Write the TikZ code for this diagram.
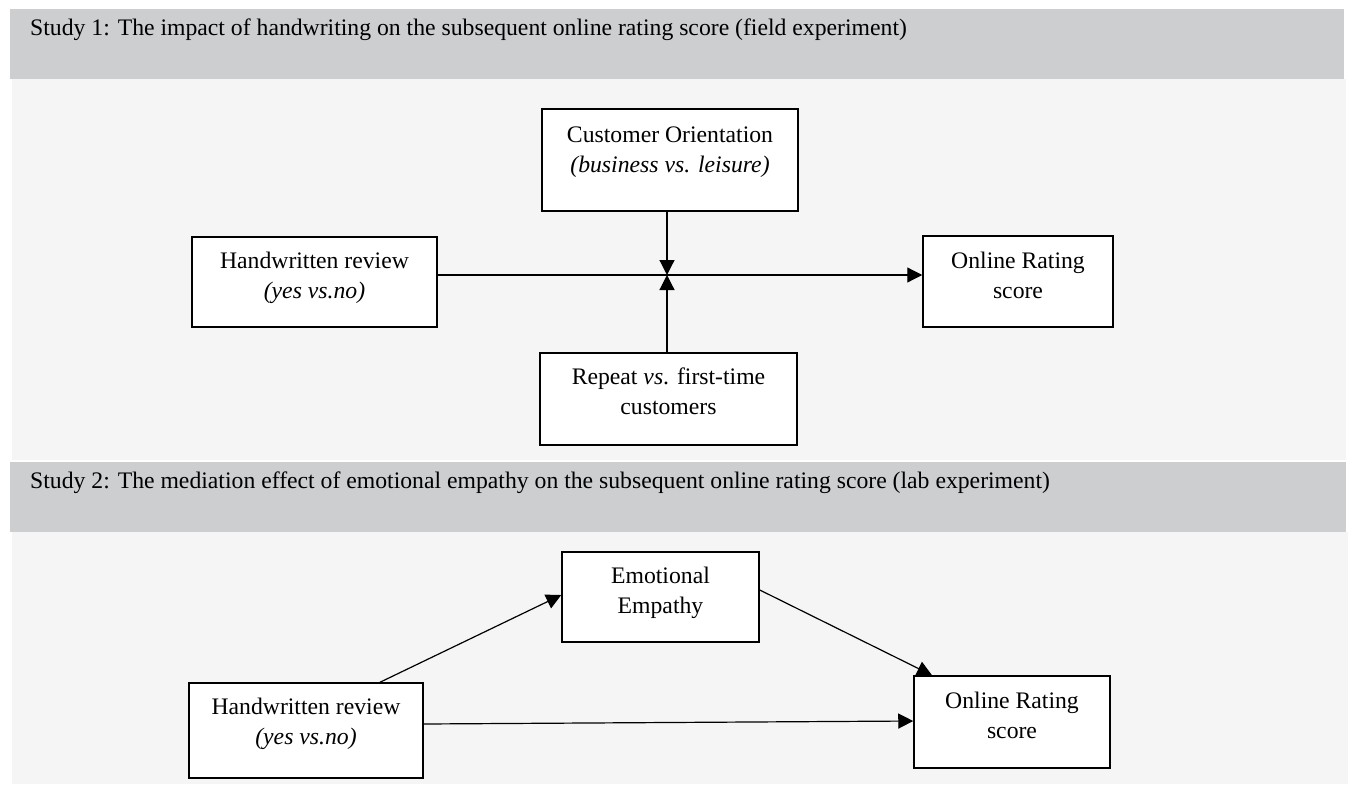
\documentclass[tikz,border=0pt]{standalone}
\usepackage{fontspec}
\setmainfont{Liberation Serif}
\usetikzlibrary{arrows.meta,calc}
\definecolor{hdr}{HTML}{CDCED0}
\definecolor{pnl}{HTML}{F5F5F5}
\begin{document}
\begin{tikzpicture}[x=1pt,y=-1pt,
  font=\fontsize{23.7}{29.5}\selectfont,
  box/.style={draw=black, line width=1.5pt, fill=white, inner sep=0pt},
  txt/.style={anchor=base, align=center, inner sep=0pt},
  hdrtxt/.style={anchor=base west, inner sep=0pt},
  conn/.style={line width=1.2pt, -{Triangle[length=15pt,width=15pt]}}]
\useasboundingbox (0,0) rectangle (1351,784);
\fill[white] (0,0) rectangle (1351,784);
\fill[hdr] (10,9) rectangle (1344,79);
\fill[pnl] (12,79) rectangle (1346,460);
\fill[hdr] (10,462) rectangle (1346,532);
\fill[pnl] (12,532) rectangle (1348,784);
\node[hdrtxt] (h1) at (30,36) {Study 1: The impact of handwriting on the subsequent online rating score (field experiment)};
\node[hdrtxt] (h2) at (30,488) {Study 2: The mediation effect of emotional empathy on the subsequent online rating score (lab experiment)};
% Study 1 boxes
\node[box, minimum width=256pt, minimum height=102pt] (co) at (670,160) {};
\node[box, minimum width=245pt, minimum height=90pt] (hr1) at (314.5,282) {};
\node[box, minimum width=190pt, minimum height=91pt] (or1) at (1018,281.5) {};
\node[box, minimum width=257pt, minimum height=92pt] (rp) at (668.5,399) {};
\node[txt] (cot) at (670,172) {Customer Orientation\\\textit{(business vs. leisure)}};
\node[txt] (hr1t) at (314.5,298) {Handwritten review\\\textit{(yes vs.no)}};
\node[txt] (or1t) at (1018,298) {Online Rating\\score};
\node[txt] (rpt) at (668.5,414) {Repeat \textit{vs}. first-time\\customers};
\coordinate (j) at (667,275);
\draw[conn] (hr1.east |- j) -- (or1.west |- j);
\draw[conn] (co.south -| j) -- (j);
\draw[conn] (rp.north -| j) -- (j);
% Study 2 boxes
\node[box, minimum width=197pt, minimum height=90pt] (ee) at (660.5,597) {};
\node[box, minimum width=196pt, minimum height=92pt] (or2) at (1012,722) {};
\node[box, minimum width=234pt, minimum height=95pt] (hr2) at (306,730.5) {};
\node[txt] (eet) at (660.5,613) {Emotional\\Empathy};
\node[txt] (or2t) at (1012,738) {Online Rating\\score};
\node[txt] (hr2t) at (306,744) {Handwritten review\\\textit{(yes vs.no)}};
\draw[conn] ($(hr2.north)+(74,0)$) -- ($(ee.west)+(0,-2)$);
\draw[conn] ($(ee.east)+(0,-7)$) -- ($(or2.north)+(-80,0)$);
\draw[conn] ($(hr2.east)+(0,-6.5)$) -- ($(or2.west)+(0,-1)$);
\end{tikzpicture}
\end{document}
